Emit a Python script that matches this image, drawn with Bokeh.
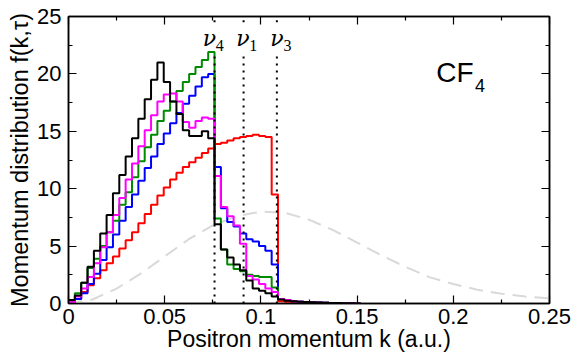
import numpy as np
from bokeh.plotting import figure
from bokeh.models import FixedTicker, LinearAxis, Range1d
from bokeh.core.properties import value
from bokeh.embed import file_html
from bokeh.resources import INLINE

# ---- data ----
bin_width = 0.0033  # histogram bin width in k (a.u.)

red = [0.1, 0.4, 1.0, 1.6, 2.2, 2.9, 3.5, 4.1, 4.8, 5.5, 6.2, 7.0, 7.8, 8.6, 9.4, 10.1,
       10.8, 11.4, 11.9, 12.3, 12.7, 13.1, 13.5, 13.9, 14.0, 14.2, 14.4, 14.5, 14.6, 14.7,
       14.6, 14.5, 9.5, 0.2, 0.15, 0.1, 0.08, 0.06, 0.05, 0.04, 0.03, 0.02, 0.02, 0.01, 0.01, 0.0]
blue = [0.1, 0.4, 0.9, 1.7, 2.6, 3.8, 4.9, 6.0, 7.2, 8.4, 9.5, 10.7, 11.8, 12.8, 13.9, 14.8,
        15.7, 16.6, 17.4, 18.1, 18.9, 19.7, 20.0, 11.9, 8.3, 7.1, 6.7, 6.1, 5.6, 5.4,
        5.0, 4.6, 3.4, 0.4, 0.3, 0.2, 0.15, 0.12, 0.1, 0.08, 0.06, 0.05, 0.04, 0.03, 0.02, 0.01]
green = [0.1, 0.9, 1.8, 3.1, 3.9, 5.0, 6.2, 7.2, 8.6, 9.7, 11.0, 12.4, 13.6, 14.7, 15.9, 16.8,
         17.6, 18.5, 19.3, 20.0, 20.6, 21.2, 21.9, 7.4, 4.7, 3.4, 3.0, 2.8, 2.5, 2.4,
         2.3, 2.3, 1.4, 0.4, 0.3, 0.2, 0.15, 0.12, 0.1, 0.08, 0.06, 0.05, 0.04, 0.03, 0.02, 0.01]
magenta = [0.1, 0.6, 1.3, 2.3, 3.5, 4.9, 6.2, 7.7, 9.2, 10.8, 12.2, 13.7, 15.1, 16.4, 17.6, 18.2,
           18.3, 17.6, 15.8, 15.3, 15.9, 16.2, 16.1, 11.1, 8.4, 7.6, 6.8, 5.2, 2.4, 2.1,
           1.7, 1.3, 1.0, 0.4, 0.3, 0.2, 0.15, 0.12, 0.1, 0.08, 0.06, 0.05, 0.04, 0.03, 0.02, 0.01]
black = [0.3, 0.7, 1.8, 3.2, 4.6, 6.1, 7.7, 9.6, 11.2, 12.8, 14.4, 16.1, 17.8, 19.5, 21.0, 19.3,
         17.6, 16.5, 15.1, 14.6, 14.6, 15.0, 14.4, 6.9, 4.7, 4.0, 3.4, 2.9, 2.0, 1.3,
         1.1, 0.9, 0.6, 0.35, 0.25, 0.2, 0.15, 0.12, 0.1, 0.08, 0.06, 0.05, 0.04, 0.03, 0.02, 0.01]

# thermal (Maxwellian) reference curve, read at sample points
k_mb = [0.0, 0.0125, 0.025, 0.0375, 0.05, 0.0625, 0.075, 0.0875, 0.1, 0.1125, 0.125, 0.1375,
        0.15, 0.1625, 0.175, 0.1875, 0.2, 0.2125, 0.225, 0.2375, 0.25]
f_mb = [0.0, 0.35, 1.3, 2.6, 4.1, 5.6, 6.8, 7.6, 8.0, 7.9, 7.3, 6.4,
        5.3, 4.2, 3.2, 2.3, 1.7, 1.2, 0.85, 0.6, 0.45]

# vibrational-mode thresholds
nu_k = [0.0759, 0.0910, 0.1083]
nu_label_k = [0.0732, 0.0906, 0.1084]
nu_sub = ["4", "1", "3"]

x_ticks = [0, 0.05, 0.1, 0.15, 0.2, 0.25]
x_tick_labels = ["0", "0.05", "0.1", "0.15", "0.2", "0.25"]
x_minor = [0.025, 0.075, 0.125, 0.175, 0.225]
y_ticks = [0, 5, 10, 15, 20, 25]
y_minor = [2.5, 7.5, 12.5, 17.5, 22.5]

x_label = "Positron momentum k (a.u.)"
y_label = "Momentum distribution f(k,τ)"

# ---- figure ----
p = figure(width=574, height=354, x_range=Range1d(0, 0.25), y_range=Range1d(0, 25),
           output_backend="svg", toolbar_location=None,
           min_border_left=68, min_border_right=25, min_border_top=16, min_border_bottom=48)
p.grid.visible = False
p.outline_line_color = "black"
p.outline_line_width = 1.5
p.background_fill_color = "white"
p.border_fill_color = "white"


def style_axis(ax, ticks, minor, labels, show):
    ax.ticker = FixedTicker(ticks=ticks, minor_ticks=minor)
    ax.axis_line_width = 1.5
    ax.axis_line_color = "black"
    ax.major_tick_in = 8
    ax.major_tick_out = 0
    ax.minor_tick_in = 4
    ax.minor_tick_out = 0
    ax.major_tick_line_width = 1.2
    ax.minor_tick_line_width = 1.2
    ax.major_tick_line_color = "black"
    ax.minor_tick_line_color = "black"
    if show:
        ax.major_label_text_font = "Liberation Sans"
        ax.major_label_text_font_size = "22px"
        ax.major_label_text_color = "black"
        ax.major_label_overrides = {t: l for t, l in zip(ticks, labels)}
        ax.axis_label_text_font = "Liberation Sans"
        ax.axis_label_text_font_size = "23px"
        ax.axis_label_text_font_style = "normal"
        ax.axis_label_text_color = "black"
    else:
        ax.major_label_overrides = {t: "" for t in ticks}
        ax.major_label_text_font_size = "1px"
        ax.major_label_standoff = 0


xa = p.xaxis[0]
style_axis(xa, x_ticks, x_minor, x_tick_labels, True)
xa.major_label_standoff = 5
xa.axis_label = x_label
xa.axis_label_standoff = -1

ya = p.yaxis[0]
style_axis(ya, y_ticks, y_minor, [str(t) for t in y_ticks], True)
ya.major_label_standoff = 7
ya.axis_label = y_label
ya.axis_label_standoff = 1
ya.axis_label_text_font_size = "23.5px"

top = LinearAxis()
style_axis(top, x_ticks, x_minor, x_tick_labels, False)
p.add_layout(top, "above")
right = LinearAxis()
style_axis(right, y_ticks, y_minor, [str(t) for t in y_ticks], False)
p.add_layout(right, "right")

# thermal curve
p.line(k_mb, f_mb, line_color="#d9d9d9", line_width=2, line_dash="14 8")

# histograms
for vals, col in [(red, "#ff0000"), (blue, "#0000ff"), (green, "#008a00"),
                  (magenta, "#ff00ff"), (black, "#000000")]:
    edges = np.arange(len(vals) + 1) * bin_width
    yy = list(vals) + [vals[-1]]
    p.step(edges, yy, mode="after", line_color=col, line_width=2)

# dotted threshold lines
p.segment(x0=nu_k, y0=[0] * 3, x1=nu_k, y1=[21.9] * 3,
          line_color="black", line_width=2, line_dash="2 5")
p.segment(x0=nu_k, y0=[24.5] * 3, x1=nu_k, y1=[25] * 3,
          line_color="black", line_width=2, line_dash="2 5")

# nu labels
p.text(x=nu_label_k, y=[23.1] * 3, text=["ν"] * 3, text_font=value("DejaVu Serif"),
       text_font_style="italic", text_font_size="22px", text_align="center",
       text_baseline="middle", text_color="black")
p.text(x=[k + 0.0033 for k in nu_label_k], y=[22.5] * 3, text=nu_sub,
       text_font=value("Liberation Serif"), text_font_size="16px", text_align="left",
       text_baseline="middle", text_color="black")

# CF4 label
p.text(x=[0.1911], y=[20.1], text=["CF"], text_font=value("Liberation Sans"),
       text_font_size="28px", text_align="left", text_baseline="middle", text_color="black")
p.text(x=[0.2113], y=[19.0], text=["4"], text_font=value("Liberation Sans"),
       text_font_size="18px", text_align="left", text_baseline="middle", text_color="black")

open("out.html", "w").write(file_html(p, INLINE))
